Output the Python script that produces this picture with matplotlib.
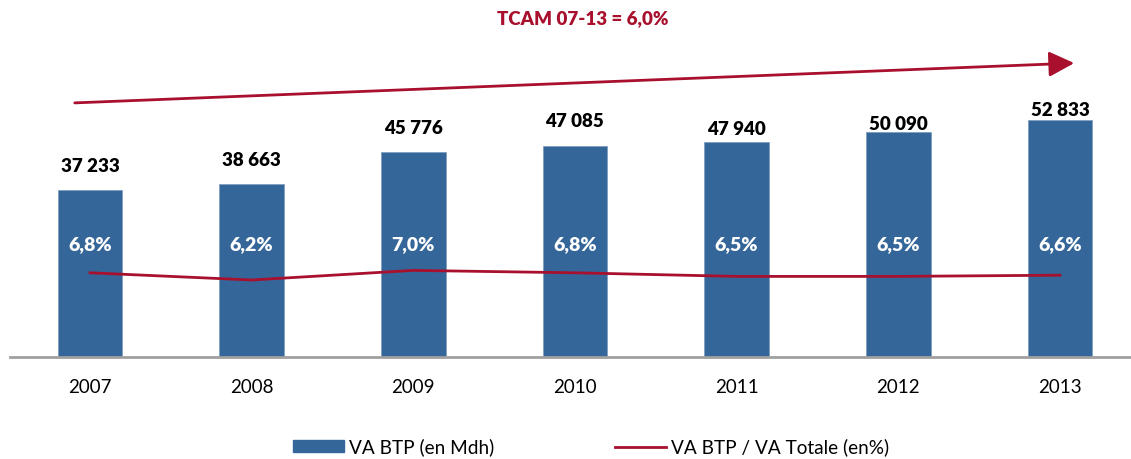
import matplotlib.pyplot as plt
import numpy as np
from matplotlib.patches import Patch, FancyArrowPatch
from matplotlib.lines import Line2D

years = ["2007", "2008", "2009", "2010", "2011", "2012", "2013"]
va_btp = [37233, 38663, 45776, 47085, 47940, 50090, 52833]
part_va = [6.8, 6.2, 7.0, 6.8, 6.5, 6.5, 6.6]
tcam_label = "TCAM 07-13 = 6,0%"

bar_color = "#346699"
red = "#A8102E"
plt.rcParams['font.family'] = ['Lato', 'DejaVu Sans']
heavy = "heavy"

fig = plt.figure(figsize=(11.31, 4.59), dpi=100)
ax = fig.add_axes([10 / 1131, 102 / 459, 1121 / 1131, 357 / 459])
x = np.arange(len(years))

ax.bar(x, va_btp, width=0.40, color=bar_color, edgecolor="#7f9fc0", linewidth=0.6, zorder=2)
ax.set_xlim(-0.495, 6.44)
ax.set_ylim(0, 79600)

# hand-placed value labels in the original (pixel offsets above bar top)
label_offsets = [24, 23, 23, 24, 12, 8, 10]
for xi, v, off in zip(x, va_btp, label_offsets):
    ax.annotate(f"{v:,}".replace(",", " "), (xi, v), xytext=(0, off), textcoords="offset pixels",
                ha="center", va="center", fontsize=13.5, fontweight=heavy, color="black")
for xi, p in zip(x, part_va):
    ax.text(xi, 25000, f"{p:.1f}%".replace(".", ","), ha="center", va="center",
            fontsize=14, fontweight=heavy, color="white", zorder=4)

for s in ["top", "right", "left"]:
    ax.spines[s].set_visible(False)
ax.spines["bottom"].set_color("#a0a0a0")
ax.spines["bottom"].set_linewidth(2)
ax.set_yticks([])
ax.set_xticks(x)
ax.set_xticklabels(years, fontsize=13.5)
ax.tick_params(axis="x", length=0, pad=16)

ax2 = ax.twinx()
ax2.plot(x, part_va, color=red, linewidth=2, zorder=3)
ax2.set_ylim(-0.217, -0.217 + 357 / 12)
ax2.axis("off")

# growth arrow
fig.patches.append(FancyArrowPatch(
    (72 / 1131, 1 - 103 / 459), (1077 / 1131, 1 - 63 / 459), transform=fig.transFigure,
    arrowstyle="-|>,head_length=1.1,head_width=0.55", mutation_scale=14,
    color=red, linewidth=2))
fig.text(583 / 1131, 1 - 18.5 / 459, tcam_label, ha="center", va="center",
         fontsize=13.5, fontweight=heavy, color=red)

handles = [Patch(color=bar_color), Line2D([0], [0], color=red, linewidth=2)]
fig.legend(handles, ["VA BTP (en Mdh)", "VA BTP / VA Totale (en%)"], loc="center",
           bbox_to_anchor=(591 / 1131, 1 - 447 / 459), ncol=2, frameon=False,
           fontsize=13.7, handlelength=2.7, handleheight=0.6, handletextpad=0.26,
           columnspacing=6.3)

fig.savefig("out.png", dpi=100)
